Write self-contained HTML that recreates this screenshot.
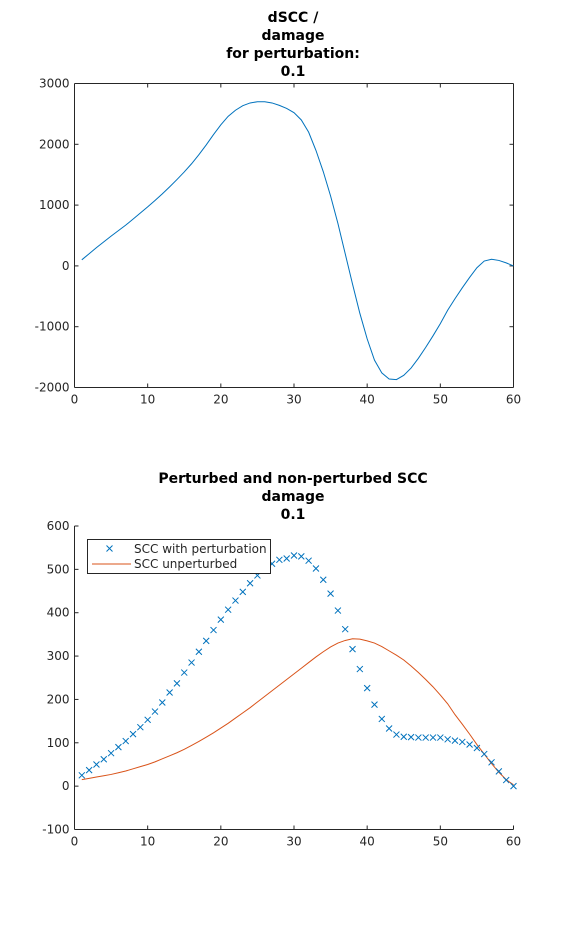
<!DOCTYPE html>
<html><head><meta charset="utf-8"><style>
body{margin:0;background:#fff;}
svg{display:block;font-family:"DejaVu Sans","Liberation Sans",sans-serif;}
.t{font-size:14px;font-weight:bold;text-anchor:middle;fill:#000;}
.tk{font-size:12px;fill:#262626;}
</style></head><body>
<svg id="fig" width="568" height="933" viewBox="0 0 568 933" xmlns="http://www.w3.org/2000/svg">
<rect width="568" height="933" fill="#fff"/>
<g>
<text class="t" x="293" y="22">dSCC /</text>
<text class="t" x="293" y="40">damage</text>
<text class="t" x="293" y="58">for perturbation:</text>
<text class="t" x="293" y="76">0.1</text>
</g>
<g>
<text class="t" x="293" y="483">Perturbed and non-perturbed SCC</text>
<text class="t" x="293" y="501">damage</text>
<text class="t" x="293" y="519">0.1</text>
</g>
<g id="topChart"></g>
<g id="botChart"></g>
<g>
<rect x="87.5" y="539.5" width="183" height="34" fill="#fff" stroke="#262626" stroke-width="1"/>
<g>
<path d="M106.5 545.5 l6 6 M112.5 545.5 l-6 6" stroke="#0072bd" fill="none"/>
<text class="tk" x="134" y="553">SCC with perturbation</text>
</g>
<g>
<line x1="92" y1="564" x2="131" y2="564" stroke="#d95319"/>
<text class="tk" x="134" y="568">SCC unperturbed</text>
</g>
</g>
</svg>
<script>
const xs = [1,2,3,4,5,6,7,8,9,10,11,12,13,14,15,16,17,18,19,20,21,22,23,24,25,26,27,28,29,30,31,32,33,34,35,36,37,38,39,40,41,42,43,44,45,46,47,48,49,50,51,52,53,54,55,56,57,58,59,60];
const dscc = [100,200,300,395,490,580,670,770,870,970,1075,1185,1300,1420,1545,1680,1830,1990,2160,2320,2460,2560,2635,2680,2700,2700,2680,2640,2590,2520,2400,2200,1900,1550,1150,700,200,-300,-780,-1200,-1550,-1760,-1860,-1870,-1800,-1680,-1520,-1340,-1150,-950,-730,-540,-360,-190,-30,80,110,90,50,0];
const perturbed = [25,37,50,62,76,90,104,120,136,153,172,193,216,237,262,285,310,335,360,384,407,428,448,468,486,502,513,522,525,532,530,520,502,476,444,405,362,316,270,226,188,155,133,119,114,113,112,112,112,112,108,105,102,96,88,74,55,34,14,0];
const unperturbed = [15,18,21,24,27,31,35,40,45,50,56,63,70,77,85,94,103,113,123,134,145,157,169,181,194,207,220,233,246,259,272,285,298,310,321,330,336,340,339,335,330,322,312,302,291,277,262,246,229,210,190,165,143,120,96,74,52,32,15,3];
const xTicks = [0,10,20,30,40,50,60];
const yTicksTop = [-2000,-1000,0,1000,2000,3000];
const yTicksBot = [-100,0,100,200,300,400,500,600];
const NS="http://www.w3.org/2000/svg";
function mk(tag,attrs,parent){const e=document.createElementNS(NS,tag);for(const k in attrs)e.setAttribute(k,attrs[k]);parent.appendChild(e);return e;}
function axes(g,L,R,T,B,ymin,ymax,yTicks,box){
  const sx=v=>L+(v-0)/(60-0)*(R-L);
  const sy=v=>B-(v-ymin)/(ymax-ymin)*(B-T);
  const ax=mk('g',{},g);
  
  
  mk('line',{x1:L,y1:B,x2:R,y2:B,stroke:'#262626'},ax);
  mk('line',{x1:L,y1:T,x2:L,y2:B,stroke:'#262626'},ax);
  if(box){mk('line',{x1:L,y1:T,x2:R,y2:T,stroke:'#262626'},ax);mk('line',{x1:R,y1:T,x2:R,y2:B,stroke:'#262626'},ax);}
  xTicks.forEach(v=>{const x=sx(v);
    mk('line',{x1:x,y1:B,x2:x,y2:B-4,stroke:'#262626'},ax);
    if(box)mk('line',{x1:x,y1:T,x2:x,y2:T+4,stroke:'#262626'},ax);
    const t=mk('text',{x:x,y:B+16,'text-anchor':'middle',class:'tk'},ax);t.textContent=v;
    
    });
  yTicks.forEach(v=>{const y=sy(v);
    mk('line',{x1:L,y1:y,x2:L+4,y2:y,stroke:'#262626'},ax);
    if(box)mk('line',{x1:R,y1:y,x2:R-4,y2:y,stroke:'#262626'},ax);
    const t=mk('text',{x:L-5,y:y+4,'text-anchor':'end',class:'tk'},ax);t.textContent=v;
    
    });
  return {sx,sy};
}
const topG=document.getElementById('topChart');
const A=axes(topG,74.5,513.5,83.5,387.5,-2000,3000,yTicksTop,true);
const p1=mk('polyline',{points:xs.map((x,i)=>A.sx(x)+','+A.sy(dscc[i])).join(' '),fill:'none',stroke:'#0072bd','stroke-width':1},topG);


const botG=document.getElementById('botChart');
const B=axes(botG,74.5,513.5,526,829.5,-100,600,yTicksBot,false);
const p2=mk('polyline',{points:xs.map((x,i)=>B.sx(x)+','+B.sy(unperturbed[i])).join(' '),fill:'none',stroke:'#d95319','stroke-width':1},botG);


xs.forEach((x,i)=>{const cx=B.sx(x),cy=B.sy(perturbed[i]);
  const m=mk('path',{d:`M${cx-3} ${cy-3} L${cx+3} ${cy+3} M${cx+3} ${cy-3} L${cx-3} ${cy+3}`,stroke:'#0072bd',fill:'none'},botG);
  
  });
</script>
</body></html>
